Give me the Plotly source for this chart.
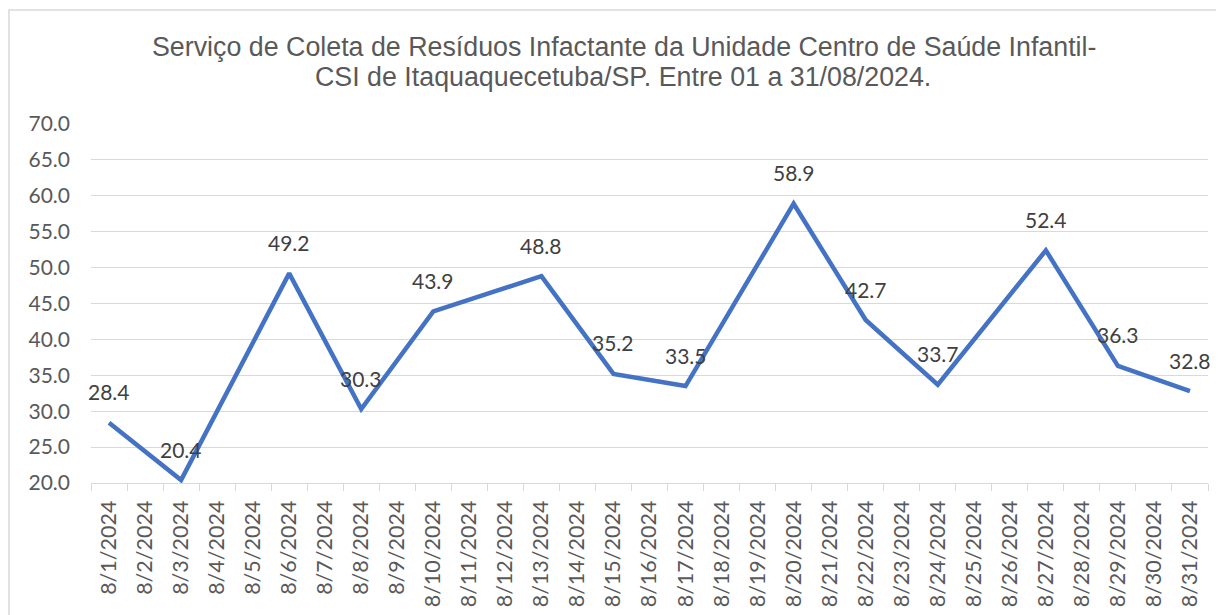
import plotly.graph_objects as go

dates = [f"8/{d}/2024" for d in range(1, 32)]
point_dates = ["8/1/2024", "8/3/2024", "8/6/2024", "8/8/2024", "8/10/2024", "8/13/2024",
               "8/15/2024", "8/17/2024", "8/20/2024", "8/22/2024", "8/24/2024",
               "8/27/2024", "8/29/2024", "8/31/2024"]
point_values = [28.4, 20.4, 49.2, 30.3, 43.9, 48.8, 35.2, 33.5, 58.9, 42.7, 33.7, 52.4, 36.3, 32.8]

title_lines = ["Serviço de Coleta de Resíduos Infactante da Unidade Centro de Saúde Infantil-",
               "CSI de Itaquaquecetuba/SP. Entre 01 a 31/08/2024."]

OFF = 8  # page body offset
W, H = 1224, 615
L, R, T, B = 91 - OFF, 24, 124 - OFF, 140
pw, ph = W - L - R, H - T - B

def px_x(px):
    return (px - OFF - L) / pw

def px_y(py):
    return (H - B - (py - OFF)) / ph

fig = go.Figure()
fig.add_trace(go.Scatter(
    x=point_dates, y=point_values, mode="lines",
    line=dict(color="#4472C4", width=4.5), connectgaps=True, hoverinfo="x+y"))

for d, v in zip(point_dates, point_values):
    fig.add_annotation(x=d, y=v, text=f"{v:.1f}", showarrow=False, yshift=31,
                       font=dict(family="Lato, Carlito, sans-serif", size=21, color="#404040"))

title_y = [47, 77]
title_x = [624, 622.5]
for txt, tx, ty in zip(title_lines, title_x, title_y):
    fig.add_annotation(xref="paper", yref="paper", x=px_x(tx), y=px_y(ty), text=txt,
                       showarrow=False, xanchor="center", yanchor="middle",
                       font=dict(family="Liberation Sans, Arial, sans-serif", size=26.8,
                                 color="#595959"))

fig.add_shape(type="rect", xref="paper", yref="paper",
              x0=px_x(9), x1=px_x(W + 30),
              y0=px_y(H + 30), y1=px_y(10),
              line=dict(color="#d9d9d9", width=1.5), fillcolor="rgba(0,0,0,0)", layer="below")

fig.update_layout(
    width=W, height=H,
    margin=dict(l=L, r=R, t=T, b=B),
    paper_bgcolor="white", plot_bgcolor="white",
    showlegend=False,
    xaxis=dict(type="category", categoryorder="array", categoryarray=dates,
               range=[-0.5, 30.5], tickangle=-90, tickson="boundaries",
               ticks="outside", ticklen=7, tickcolor="#d9d9d9",
               showline=True, linecolor="#d9d9d9", linewidth=1, showgrid=False,
               ticklabelstandoff=8,
               tickfont=dict(family="Lato, Carlito, sans-serif", size=21.5, color="#595959")),
    yaxis=dict(range=[20, 70], dtick=5, tick0=20, tickformat=".1f",
               showgrid=True, gridcolor="#d9d9d9", gridwidth=1, zeroline=False,
               showline=False, ticks="", ticklen=0, ticklabelstandoff=20,
               tickfont=dict(family="Lato, Carlito, sans-serif", size=21, color="#595959")),
)

fig.write_html("out.html")
